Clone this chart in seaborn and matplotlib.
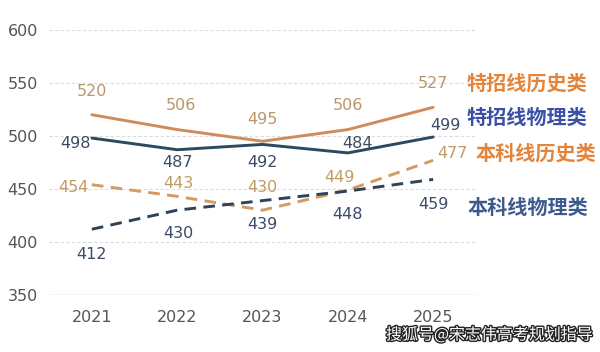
import pandas as pd
import seaborn as sns
import matplotlib.pyplot as plt
import matplotlib.patheffects as pe

# data
years = [2021, 2022, 2023, 2024, 2025]
series_names = ["特招线历史类", "特招线物理类", "本科线历史类", "本科线物理类"]
tezhao_lishi = [520, 506, 495, 506, 527]
tezhao_wuli = [498, 487, 492, 484, 499]
benke_lishi = [454, 443, 430, 449, 477]
benke_wuli = [412, 430, 439, 448, 459]
y_ticks = [350, 400, 450, 500, 550, 600]

values = [tezhao_lishi, tezhao_wuli, benke_lishi, benke_wuli]
df = pd.DataFrame({
    "year": years * 4,
    "score": sum(values, []),
    "series": [s for s in series_names for _ in years],
})

sns.set_theme(style="white")
plt.rcParams["font.family"] = ["DejaVu Sans", "Noto Sans CJK SC"]

line_colors = {"特招线历史类": "#cf8c5a", "特招线物理类": "#2b4a60",
               "本科线历史类": "#d49a62", "本科线物理类": "#2f4258"}
dashes = {"特招线历史类": "", "特招线物理类": "",
          "本科线历史类": (4, 2.5), "本科线物理类": (4, 2.5)}
value_colors = ["#b8976a", "#3c4c66", "#c29a62", "#3c4c66"]
name_colors = ["#e4843a", "#3a4fa6", "#e4843a", "#3d5a8c"]

# label offsets in points (dx, dy) for each series / year
offsets = [
    [(0, 17), (3, 17), (0, 16), (0, 17), (0, 17)],
    [(-12, -4), (0, -9), (0, -13), (7, 7), (9, 8)],
    [(-13, -2), (1, 9), (0, 16), (-6, 9), (14, 5)],
    [(0, -18), (1, -17), (0, -17), (0, -17), (0, -18)],
]

fig = plt.figure(figsize=(6, 3.52), dpi=100)
ax = fig.add_axes([0.082, 0.162, 0.711, 0.753])

sns.lineplot(data=df, x="year", y="score", hue="series", style="series",
             palette=line_colors, dashes=dashes, linewidth=2.1,
             legend=False, ax=ax)

for i, vals in enumerate(values):
    for j, (yr, v) in enumerate(zip(years, vals)):
        dx, dy = offsets[i][j]
        ax.annotate(str(v), (yr, v), xytext=(dx, dy), textcoords="offset points",
                    ha="center", va="center", fontsize=11.5, color=value_colors[i])

ax.set_xlim(2020.5, 2025.5)
ax.set_ylim(350, 600)
ax.set_yticks(y_ticks)
ax.set_xticks(years)
ax.set_xlabel("")
ax.set_ylabel("")
ax.tick_params(axis="y", length=0, pad=8, labelsize=11.5, labelcolor="#555555")
ax.tick_params(axis="x", length=0, pad=11, labelsize=11.5, labelcolor="#555555")
for sp in ax.spines.values():
    sp.set_visible(False)
for yv in y_ticks[1:]:
    ax.axhline(yv, color="#dcdcdc", lw=0.8, ls=(0, (3, 2)), zorder=0)
ax.axhline(350, color="#d0d0d0", lw=1.0, zorder=0)

name_pos = [(467, 83), (467, 117), (475, 153), (468, 207)]
for name, (px, py), c in zip(series_names, name_pos, name_colors):
    fig.text(px / 600, 1 - py / 352, name, fontsize=14.5, fontweight="bold",
             color=c, ha="left", va="center", family=["Noto Sans CJK SC", "DejaVu Sans"])

fig.text(386 / 600, 1 - 335 / 352, "搜狐号@宋志伟高考规划指导", fontsize=11.5,
         color="white", ha="left", va="center",
         family=["Noto Sans CJK SC", "DejaVu Sans"],
         path_effects=[pe.withStroke(linewidth=2, foreground="#222222")])

fig.savefig("out.png", dpi=100)
